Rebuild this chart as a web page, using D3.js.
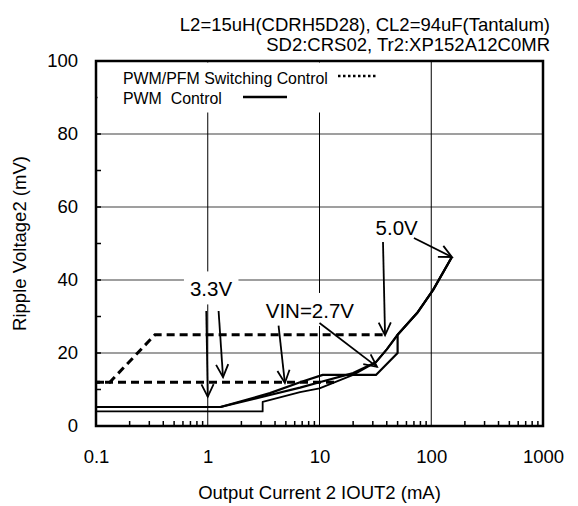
<!DOCTYPE html>
<html><head><meta charset="utf-8">
<script src="https://cdn.jsdelivr.net/npm/d3@7"></script>
<style>body{margin:0;background:#fff}svg{display:block}text{font-family:Arial,"Liberation Sans",sans-serif;fill:#000}</style>
</head><body><svg id="c" width="578" height="506"></svg>
<script>
// ---- data ----
const xTicks = [0.1, 1, 10, 100, 1000];
const yTicks = [0, 20, 40, 60, 80, 100];
const yMinor = [10, 30, 50, 70, 90];
const titleLines = ["L2=15uH(CDRH5D28), CL2=94uF(Tantalum)", "SD2:CRS02, Tr2:XP152A12C0MR"];
const legendLabels = ["PWM/PFM Switching Control", "PWM  Control"];

// PWM control (solid)
const pwmA_x = [0.1, 3.1, 3.1, 6.7, 10, 20, 32, 40, 50, 75, 104, 153];
const pwmA_y = [4.0, 4.0, 6.6, 9.3, 10.3, 14, 17.5, 21, 25, 31, 37.3, 46.3];
const pwmB_x = [0.1, 1.3, 3.6, 6.7, 10, 20, 32, 40, 50, 75, 104, 153];
const pwmB_y = [5.2, 5.2, 8.5, 10.5, 12, 14.5, 17.5, 21, 25, 31, 37.3, 46.3];
const pwmC_x = [0.1, 1.3, 3.6, 6.7, 10.7, 32, 50, 50, 75, 104, 153];
const pwmC_y = [5.2, 5.2, 9, 12, 14, 14, 20, 25, 31, 37.3, 46.3];
// PWM/PFM switching control (dashed)
const pfmA_x = [0.1, 0.133, 0.337, 38.6];
const pfmA_y = [12, 12, 25, 25];
const pfmB_x = [0.1, 14.4];
const pfmB_y = [12, 12];

// annotations: label, label anchor (data units), arrows [fromX, fromY, toX, toY]
const annLabels = ["3.3V", "VIN=2.7V", "5.0V"];
const annPos = [[1.07, 35.5], [8.2, 29.6], [49, 52.3]];
const annArrows = [
  [[0.97, 31.5, 1.0, 8.0], [1.25, 31.5, 1.37, 13.4]],
  [[4.3, 27.5, 4.9, 11.8], [10, 28.2, 32.7, 16.2]],
  [[37, 50.4, 38.6, 24.9], [70, 51.5, 153, 46.3]]
];

// ---- layout ----
const L = 96, R = 543, T = 61, B = 426;
const svg = d3.select("#c");
const x = d3.scaleLog().domain([0.1, 1000]).range([L, R]);
const y = d3.scaleLinear().domain([0, 100]).range([B, T]);

// gridlines
svg.append("g").selectAll("line").data(yTicks.filter(v => v > 0 && v < 100)).join("line")
  .attr("x1", L).attr("x2", R).attr("y1", d => y(d)).attr("y2", d => y(d))
  .attr("stroke", "#7f7f7f").attr("stroke-width", 1.5);
svg.append("g").selectAll("line").data(xTicks.filter(v => v > 0.1 && v < 1000)).join("line")
  .attr("x1", d => x(d)).attr("x2", d => x(d)).attr("y1", T).attr("y2", B)
  .attr("stroke", "#000").attr("stroke-width", 1);

// minor ticks
const xMinor = [];
[0.1, 1, 10, 100].forEach(d => { for (let k = 2; k <= 9; k++) xMinor.push(d * k); });
svg.append("g").selectAll("line").data(xMinor).join("line")
  .attr("x1", d => x(d)).attr("x2", d => x(d)).attr("y1", B).attr("y2", B - 5)
  .attr("stroke", "#000").attr("stroke-width", 1.5);
svg.append("g").selectAll("line").data(yMinor.concat(yTicks)).join("line")
  .attr("x1", L).attr("x2", L + 5).attr("y1", d => y(d)).attr("y2", d => y(d))
  .attr("stroke", "#000").attr("stroke-width", 1.5);

// axes tick labels via d3 axes
const xAxis = d3.axisBottom(x).tickValues(xTicks).tickSize(0).tickPadding(24)
  .tickFormat(d => String(d));
const gx = svg.append("g").attr("transform", `translate(0,${B})`).call(xAxis);
gx.select(".domain").remove();
gx.selectAll("text").attr("font-size", 18.5).attr("font-family", "Arial, 'Liberation Sans', sans-serif").attr("fill", "#000");
const yAxis = d3.axisLeft(y).tickValues(yTicks).tickSize(0).tickPadding(18);
const gy = svg.append("g").attr("transform", `translate(${L},0)`).call(yAxis);
gy.select(".domain").remove();
gy.selectAll("text").attr("font-size", 18.5).attr("font-family", "Arial, 'Liberation Sans', sans-serif").attr("fill", "#000");

// legend background (covers gridlines)
svg.append("rect").attr("x", L + 1.5).attr("y", T + 1.5).attr("width", 295).attr("height", 50).attr("fill", "#fff");

// series
const line = d3.line().x(d => x(d[0])).y(d => y(d[1]));
const zip = (a, b) => a.map((v, i) => [v, b[i]]);
svg.append("path").attr("d", line(zip(pfmA_x, pfmA_y))).attr("fill", "none")
  .attr("stroke", "#000").attr("stroke-width", 3).attr("stroke-dasharray", "8,5");
svg.append("path").attr("d", line(zip(pfmB_x, pfmB_y))).attr("fill", "none")
  .attr("stroke", "#000").attr("stroke-width", 3).attr("stroke-dasharray", "8,5").attr("stroke-dashoffset", 4);
[[pwmA_x, pwmA_y, 1.8], [pwmB_x, pwmB_y, 2.2], [pwmC_x, pwmC_y, 2.2]].forEach(([xs, ys, w]) => {
  svg.append("path").attr("d", line(zip(xs, ys))).attr("fill", "none")
    .attr("stroke", "#000").attr("stroke-width", w).attr("stroke-linejoin", "round");
});

// frame
svg.append("rect").attr("x", L).attr("y", T).attr("width", R - L).attr("height", B - T)
  .attr("fill", "none").attr("stroke", "#000").attr("stroke-width", 2.5);

// annotations
annLabels.forEach((t, i) => {
  const [ax, ay] = annPos[i];
  const bg = svg.append("rect").attr("fill", "#fff");
  const tx = svg.append("text").attr("x", x(ax)).attr("y", y(ay)).attr("text-anchor", "middle")
    .attr("font-size", 20.5).text(t);
  const bb = tx.node().getBBox();
  bg.attr("x", bb.x - 6).attr("y", bb.y - 6).attr("width", bb.width + 12).attr("height", bb.height + 10);
  annArrows[i].forEach(([x0, y0, x1, y1]) => {
    const px0 = x(x0), py0 = y(y0), px1 = x(x1), py1 = y(y1);
    svg.append("line").attr("x1", px0).attr("y1", py0).attr("x2", px1).attr("y2", py1)
      .attr("stroke", "#000").attr("stroke-width", 1.8);
    const ang = Math.atan2(py1 - py0, px1 - px0), len = 14, spread = 0.45;
    const pts = [[px1 - len * Math.cos(ang - spread), py1 - len * Math.sin(ang - spread)], [px1, py1],
                 [px1 - len * Math.cos(ang + spread), py1 - len * Math.sin(ang + spread)]];
    svg.append("path").attr("d", d3.line()(pts)).attr("fill", "none")
      .attr("stroke", "#000").attr("stroke-width", 1.8);
  });
});

// legend
svg.append("text").attr("x", 123).attr("y", 84).attr("font-size", 15.9).text(legendLabels[0]);
svg.append("line").attr("x1", 338).attr("x2", 378).attr("y1", 76).attr("y2", 76)
  .attr("stroke", "#000").attr("stroke-width", 2.5).attr("stroke-dasharray", "2.5,2.5");
svg.append("text").attr("x", 123).attr("y", 104).attr("font-size", 15.9)
  .attr("xml:space", "preserve").style("white-space", "pre").text(legendLabels[1]);
svg.append("line").attr("x1", 243).attr("x2", 287).attr("y1", 97).attr("y2", 97)
  .attr("stroke", "#000").attr("stroke-width", 2.5);

// title
titleLines.forEach((t, i) => {
  svg.append("text").attr("x", 550).attr("y", 31 + i * 19.5).attr("text-anchor", "end")
    .attr("font-size", 18.5).text(t);
});

// axis titles
svg.append("text").attr("x", (L + R) / 2).attr("y", 499).attr("text-anchor", "middle")
  .attr("font-size", 18.5).text("Output Current 2 IOUT2 (mA)");
svg.append("text").attr("transform", `translate(26,${(T + B) / 2}) rotate(-90)`)
  .attr("text-anchor", "middle").attr("font-size", 18.5).text("Ripple Voltage2 (mV)");
</script></body></html>
